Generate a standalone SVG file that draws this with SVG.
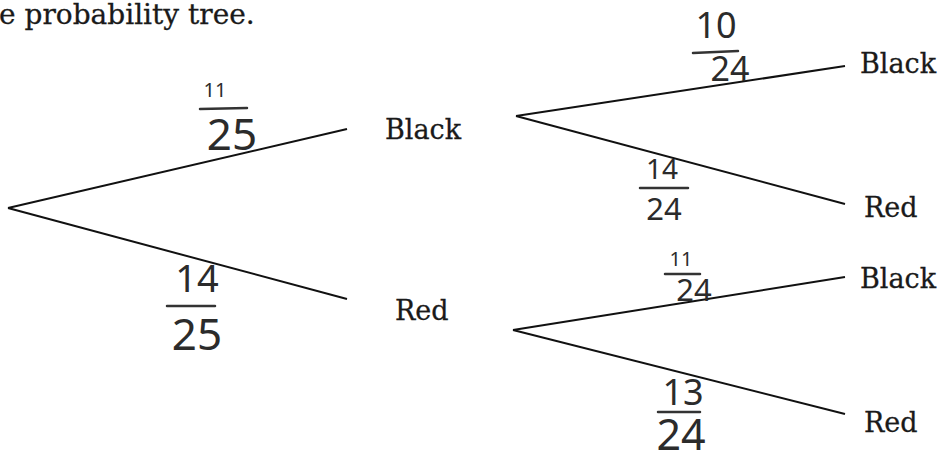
<svg xmlns="http://www.w3.org/2000/svg" width="947" height="450" viewBox="0 0 947 450">
<style>
.lbl{font-family:"DejaVu Serif","Liberation Serif",serif;font-size:27px;fill:#1a1a1a;stroke:#1a1a1a;stroke-width:0.3}
.hdr{font-family:"DejaVu Serif","Liberation Serif",serif;font-size:28px;fill:#1a1a1a;stroke:#1a1a1a;stroke-width:0.3}
.hw{font-family:"Noto Sans","DejaVu Sans",sans-serif;fill:#2b2b2b;text-anchor:middle}
.bar{stroke:#333;stroke-width:2.5;stroke-linecap:round}
.br{stroke:#111;stroke-width:2;fill:none}
</style>
<rect width="947" height="450" fill="#fff"/>
<text class="hdr" x="-1" y="24">e probability tree.</text>
<g id="connectors">
<line class="br" x1="8" y1="208" x2="347" y2="129"/>
<line class="br" x1="8" y1="208" x2="347" y2="299"/>
<line class="br" x1="516" y1="116" x2="845" y2="66"/>
<line class="br" x1="516" y1="116" x2="845" y2="204"/>
<line class="br" x1="513" y1="330" x2="845" y2="277"/>
<line class="br" x1="513" y1="330" x2="845" y2="414"/>
</g>
<g id="n-black1"><text class="lbl" x="385" y="139">Black</text></g>
<g id="n-red1"><text class="lbl" x="395" y="320">Red</text></g>
<g id="n-bb"><text class="lbl" x="860" y="73">Black</text></g>
<g id="n-br"><text class="lbl" x="864" y="217">Red</text></g>
<g id="n-rb"><text class="lbl" x="860" y="288">Black</text></g>
<g id="n-rr"><text class="lbl" x="864" y="432">Red</text></g>
<g id="p-11-25">
<text class="hw" x="215" y="97" font-size="20">11</text>
<line class="bar" x1="200" y1="109" x2="247" y2="108"/>
<text class="hw" x="232" y="150" font-size="44">25</text>
</g>
<g id="p-14-25">
<text class="hw" x="197" y="292" font-size="38">14</text>
<line class="bar" x1="167" y1="306" x2="215" y2="306"/>
<text class="hw" x="197" y="350" font-size="44">25</text>
</g>
<g id="p-10-24">
<text class="hw" x="716" y="38" font-size="36">10</text>
<line class="bar" x1="693" y1="53" x2="738" y2="51"/>
<text class="hw" x="730" y="81" font-size="34">24</text>
</g>
<g id="p-14-24">
<text class="hw" x="662" y="179" font-size="28">14</text>
<line class="bar" x1="640" y1="188" x2="688" y2="188"/>
<text class="hw" x="664" y="220" font-size="31">24</text>
</g>
<g id="p-11-24">
<text class="hw" x="681" y="266" font-size="20">11</text>
<line class="bar" x1="665" y1="274" x2="700" y2="274"/>
<text class="hw" x="694" y="301" font-size="31">24</text>
</g>
<g id="p-13-24">
<text class="hw" x="683" y="405" font-size="36">13</text>
<line class="bar" x1="658" y1="412" x2="700" y2="412"/>
<text class="hw" x="681" y="450" font-size="43">24</text>
</g>
</svg>
